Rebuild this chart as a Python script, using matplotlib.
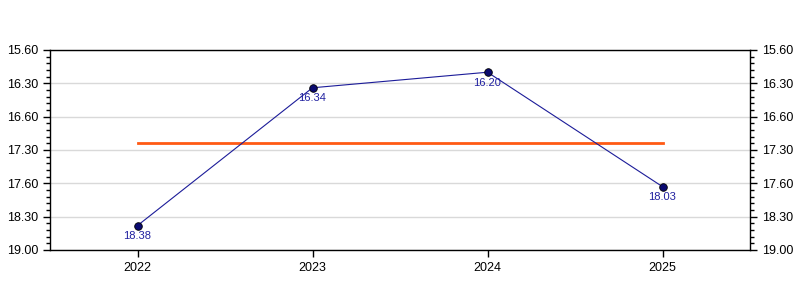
import matplotlib
matplotlib.use("Agg")
import matplotlib.pyplot as plt
from matplotlib.ticker import FixedLocator, MultipleLocator

plt.rcParams['font.family'] = ['Liberation Sans', 'DejaVu Sans']

years = [2022, 2023, 2024, 2025]
# times shown as minutes.seconds
time_labels = ["18.38", "16.34", "16.20", "18.03"]
tick_values = [16.0, 16.5, 17.0, 17.5, 18.0, 18.5, 19.0]
tick_labels = ["15.60", "16.30", "16.60", "17.30", "17.60", "18.30", "19.00"]

def to_minutes(s):
    m, sec = s.split(".")
    return int(m) + int(sec) / 60.0

values = [to_minutes(s) for s in time_labels]
avg = sum(values) / len(values)

fig = plt.figure(figsize=(8, 3), dpi=100)
ax = fig.add_axes([50/800, 50/300, 700/800, 200/300])

ax.set_xlim(2021.5, 2025.5)
ax.set_ylim(19.0, 16.0)

ax.yaxis.set_major_locator(FixedLocator(tick_values))
ax.set_yticklabels(tick_labels)
ax.yaxis.set_minor_locator(MultipleLocator(0.1))
ax.set_xticks(years)
ax.set_xticklabels([str(y) for y in years])

ax.grid(axis='y', color='#d9d9d9', linewidth=1)
ax.set_axisbelow(True)

ax.plot([years[0], years[-1]], [avg, avg], color='#ff5a14', linewidth=2, zorder=2)
ax.plot(years, values, color='#1c1c99', linewidth=0.8, zorder=3)
ax.scatter(years, values, s=30, color='#0a0a70', edgecolors='black', linewidths=0.6, zorder=4)

for x, y, lab in zip(years, values, time_labels):
    ax.annotate(lab, (x, y), xytext=(0, -4), textcoords='offset points',
                ha='center', va='top', fontsize=8, color='#2020a0')

ax.tick_params(axis='y', which='both', left=True, right=True, labelleft=True, labelright=True,
               direction='out', labelsize=9, colors='black')
ax.tick_params(axis='y', which='major', length=5, width=1)
ax.tick_params(axis='y', which='minor', length=3, width=1)
ax.tick_params(axis='x', which='major', length=5, width=1, labelsize=9, direction='out')
ax.tick_params(axis='x', which='minor', bottom=False)

for sp in ax.spines.values():
    sp.set_color('black')
    sp.set_linewidth(1)

fig.savefig("out.png", dpi=100)
